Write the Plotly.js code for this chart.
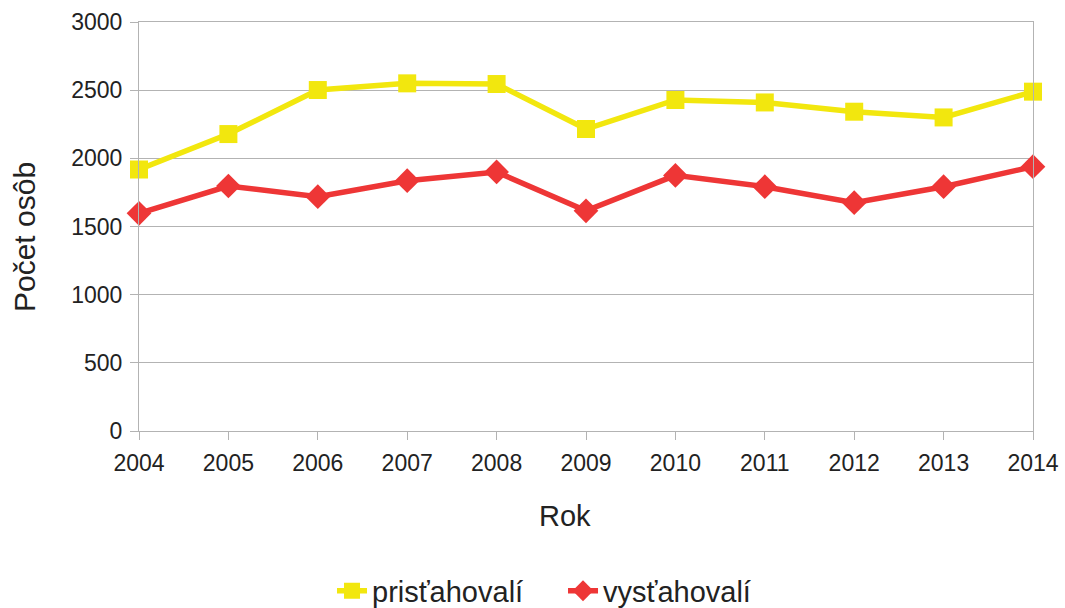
<!DOCTYPE html>
<html>
<head>
<meta charset="utf-8">
<script src="https://cdn.plot.ly/plotly-3.0.1.min.js"></script>
<style>html,body{margin:0;padding:0;background:#fff;}#chart{width:1065px;height:608px;}</style>
</head>
<body>
<div id="chart"></div>
<script>
const years = ['2004','2005','2006','2007','2008','2009','2010','2011','2012','2013','2014'];
const pristahovali = [1918, 2178, 2501, 2550, 2545, 2215, 2428, 2410, 2342, 2300, 2489];
const vystahovali = [1597, 1797, 1719, 1836, 1900, 1615, 1875, 1792, 1675, 1792, 1939];
const seriesNames = ['prisťahovalí', 'vysťahovalí'];
const yTicks = [0, 500, 1000, 1500, 2000, 2500, 3000];
const xTitle = 'Rok';
const yTitle = 'Počet osôb';

const font = 'Liberation Sans, Arial, sans-serif';
const txt = '#222';
const traces = [
  {x: years, y: pristahovali, name: seriesNames[0], type: 'scatter', mode: 'lines+markers', cliponaxis: false,
   line: {color: '#f2e70e', width: 5.5}, marker: {symbol: 'square', size: 18, color: '#f2e70e'}},
  {x: years, y: vystahovali, name: seriesNames[1], type: 'scatter', mode: 'lines+markers', cliponaxis: false,
   line: {color: '#ee3636', width: 5.5}, marker: {symbol: 'diamond', size: 19, color: '#ee3636'}}
];
const layout = {
  width: 1065, height: 608,
  margin: {l: 139, r: 32, t: 22, b: 177, autoexpand: false},
  paper_bgcolor: '#fff', plot_bgcolor: '#fff',
  font: {family: font, size: 23, color: txt},
  showlegend: true,
  legend: {orientation: 'h', x: 0.2159, xanchor: 'left', y: -0.391, yanchor: 'middle',
           entrywidth: 186, entrywidthmode: 'pixels',
           font: {family: font, size: 29, color: txt}, itemwidth: 30},
  xaxis: {type: 'category', range: [0, 10], showgrid: false, showline: true, mirror: true,
          linecolor: '#b3b3b3', linewidth: 1, ticks: 'outside', ticklen: 8, tickcolor: '#b3b3b3',
          ticklabelstandoff: 3, tickfont: {family: font, size: 23, color: txt}},
  yaxis: {range: [0, 3000], tickvals: yTicks, showgrid: true, gridcolor: '#b3b3b3', gridwidth: 1,
          zeroline: false, showline: true, mirror: true, linecolor: '#b3b3b3', linewidth: 1,
          ticks: 'outside', ticklen: 8, tickcolor: '#b3b3b3',
          ticklabelstandoff: 3, tickfont: {family: font, size: 23, color: txt}},
  annotations: [
    {text: xTitle, xref: 'paper', yref: 'paper', x: 0.4765, y: -0.2078, xanchor: 'center', yanchor: 'middle',
     showarrow: false, font: {family: font, size: 29, color: txt}},
    {text: yTitle, xref: 'paper', yref: 'paper', x: -0.1286, y: 0.4743, xanchor: 'center', yanchor: 'middle',
     textangle: -90, showarrow: false, font: {family: font, size: 30, color: txt}}
  ]
};
Plotly.newPlot('chart', traces, layout, {displayModeBar: false, staticPlot: true});
</script>
</body>
</html>
